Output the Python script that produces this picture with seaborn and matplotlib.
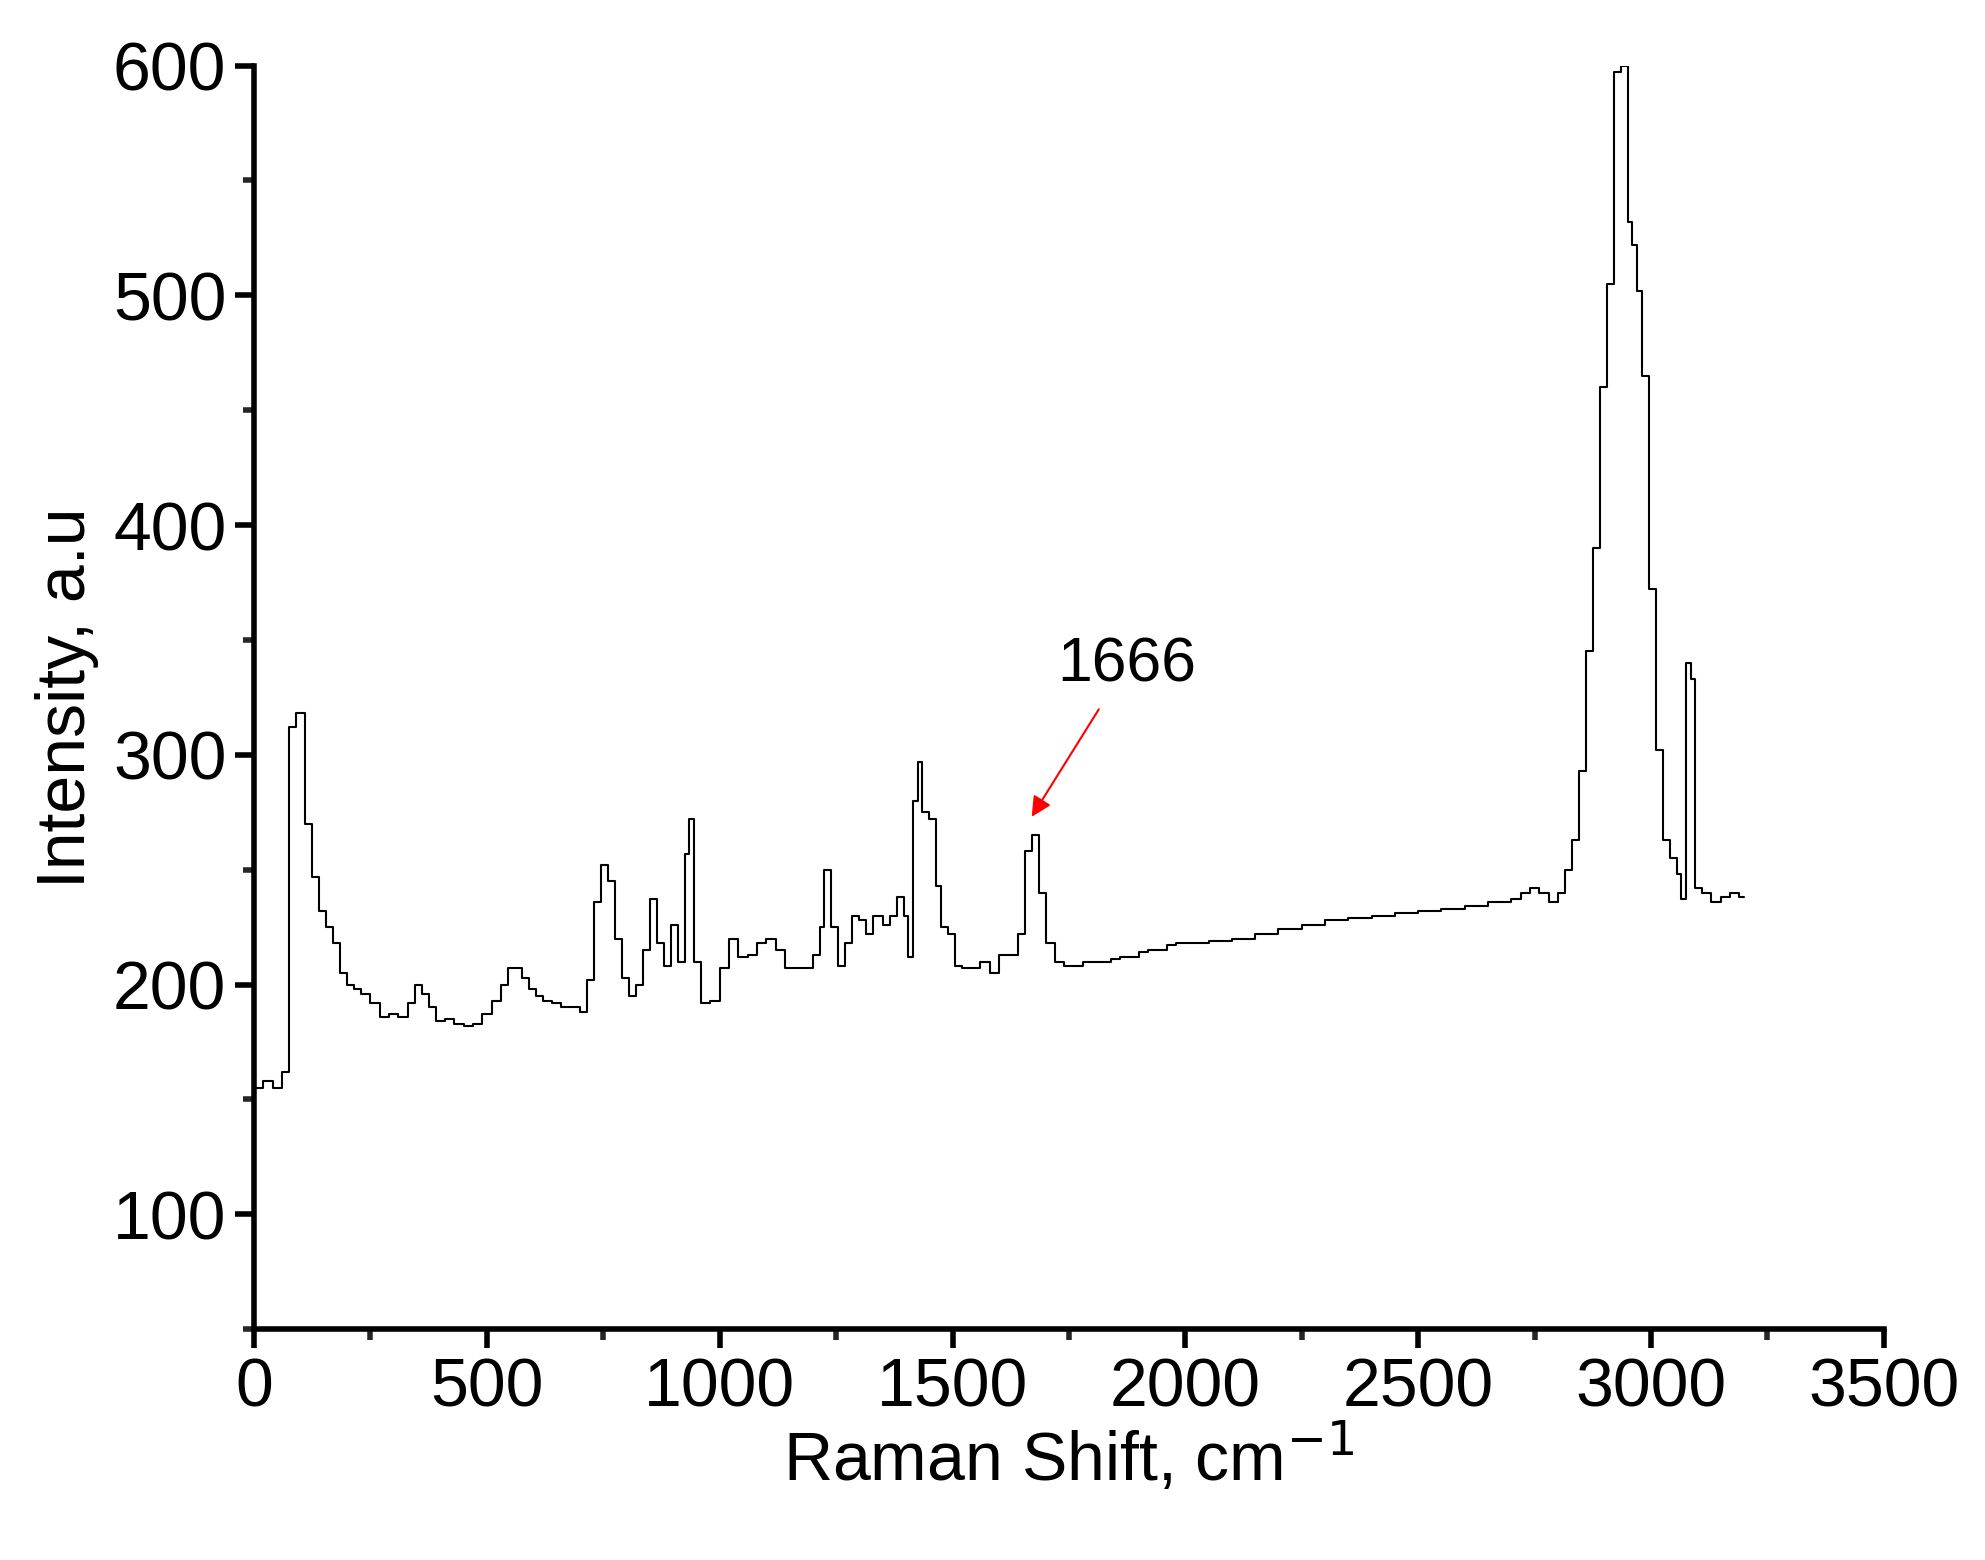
import matplotlib
matplotlib.use('Agg')
import matplotlib.pyplot as plt
import seaborn as sns
from matplotlib.ticker import MultipleLocator

sns.set_theme(style='white')
plt.rcParams['font.family'] = ['Liberation Sans', 'DejaVu Sans']
plt.rcParams['text.color'] = 'black'
plt.rcParams['axes.labelcolor'] = 'black'

# Raman spectrum
shift = [0, 20, 40, 60, 75, 90, 100, 110, 125, 140, 155, 170, 185, 200, 215, 230, 250, 270, 290, 310,
         330, 345, 360, 375, 390, 410, 430, 450, 470, 490, 510, 530, 545, 560, 575, 590, 605, 620, 640,
         660, 680, 700, 715, 730, 745, 760, 775, 790, 805, 820, 835, 850, 865, 880, 895, 910, 925, 935,
         945, 960, 980, 1000, 1020, 1040, 1060, 1080, 1100, 1120, 1140, 1160, 1180, 1200, 1215, 1225,
         1240, 1255, 1270, 1285, 1300, 1315, 1330, 1350, 1365, 1380, 1395, 1405, 1415, 1425, 1435, 1450,
         1465, 1475, 1490, 1505, 1520, 1540, 1560, 1580, 1600, 1620, 1640, 1655, 1670, 1685, 1700, 1720,
         1740, 1760, 1780, 1800, 1820, 1840, 1860, 1880, 1900, 1920, 1940, 1960, 1980, 2000, 2050, 2100,
         2150, 2200, 2250, 2300, 2350, 2400, 2450, 2500, 2550, 2600, 2650, 2700, 2720, 2740, 2760, 2780,
         2800, 2815, 2830, 2845, 2860, 2875, 2890, 2905, 2920, 2935, 2950, 2960, 2970, 2980, 2995, 3010,
         3025, 3040, 3055, 3065, 3075, 3085, 3095, 3110, 3130, 3150, 3170, 3190, 3200]
intensity = [155, 158, 155, 162, 312, 318, 318, 270, 247, 232, 225, 218, 205, 200, 198, 196, 192, 186, 187, 186,
             192, 200, 196, 190, 184, 185, 183, 182, 183, 187, 193, 200, 207, 207, 203, 198, 195, 193, 192,
             190, 190, 188, 202, 236, 252, 245, 220, 203, 195, 200, 215, 237, 218, 208, 226, 210, 257, 272,
             210, 192, 193, 207, 220, 212, 213, 218, 220, 215, 207, 207, 207, 213, 225, 250,
             225, 208, 218, 230, 228, 222, 230, 226, 230, 238, 230, 212, 280, 297, 275, 272,
             243, 225, 222, 208, 207, 207, 210, 205, 213, 213, 222, 258, 265, 240, 218, 210,
             208, 208, 210, 210, 210, 211, 212, 212, 214, 215, 215, 217, 218, 218, 219, 220,
             222, 224, 226, 228, 229, 230, 231, 232, 233, 234, 236, 237, 240, 242, 240, 236,
             240, 250, 263, 293, 345, 390, 460, 505, 597, 600, 532, 522, 502, 465, 372, 302,
             263, 255, 248, 237, 340, 333, 242, 240, 236, 238, 240, 238, 238]

fig = plt.figure(figsize=(19.85, 15.6), dpi=100)
ax = fig.add_axes([0.128, 0.148, 0.821, 0.81])
ax.step(shift, intensity, where='post', color='black', lw=1.5)

ax.set_xlim(0, 3500)
ax.set_ylim(50, 600)
ax.xaxis.set_major_locator(MultipleLocator(500))
ax.xaxis.set_minor_locator(MultipleLocator(250))
ax.yaxis.set_major_locator(MultipleLocator(100))
ax.yaxis.set_minor_locator(MultipleLocator(50))
for s in ['top', 'right']:
    ax.spines[s].set_visible(False)
for s in ['left', 'bottom']:
    ax.spines[s].set_linewidth(4)
    ax.spines[s].set_color('black')
ax.tick_params(which='major', direction='out', length=14, width=4, labelsize=49,
               left=True, bottom=True, colors='black', pad=6)
ax.tick_params(which='minor', direction='out', length=8, width=4, left=True, bottom=True)

ax.set_xlabel('Raman Shift, cm$^{-1}$', fontsize=49, labelpad=0)
ax.set_ylabel('Intensity, a.u', fontsize=49, labelpad=10)

ax.annotate('1666', xy=(1670, 273), xytext=(1874, 332), fontsize=45, ha='center',
            color='black',
            arrowprops=dict(arrowstyle='-|>', color='red', lw=1.5, mutation_scale=30,
                            shrinkA=10, shrinkB=0))

fig.savefig('out.png', dpi=100)
